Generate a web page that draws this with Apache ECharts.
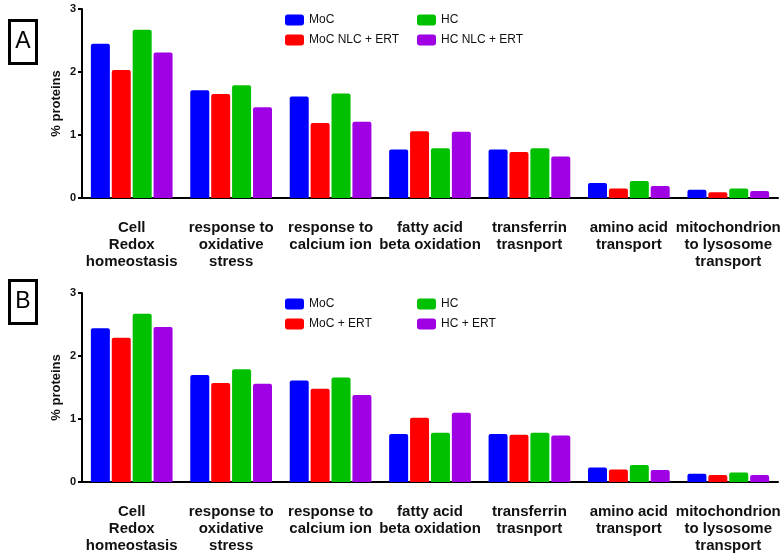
<!DOCTYPE html>
<html>
<head>
<meta charset="utf-8">
<title>% proteins by process</title>
<script src="https://cdn.jsdelivr.net/npm/echarts@6/dist/echarts.min.js"></script>
<style>
    html, body { margin: 0; padding: 0; background: #fff; }
    #chart { width: 784px; height: 559px; }
</style>
</head>
<body>
<div id="chart"></div>
<script>
// categories (line breaks as in the figure)
const categories = [
    'Cell\nRedox\nhomeostasis',
    'response to\noxidative\nstress',
    'response to\ncalcium ion',
    'fatty acid\nbeta oxidation',
    'transferrin\ntrasnport',
    'amino acid\ntransport',
    'mitochondrion\nto lysosome\ntransport'
];
const yTicks = [0, 1, 2, 3];

// panel A
const namesA = ['MoC', 'MoC NLC + ERT', 'HC', 'HC NLC + ERT'];
const mocA = [2.45, 1.71, 1.61, 0.77, 0.77, 0.24, 0.13];
const mocNlcErtA = [2.03, 1.65, 1.19, 1.06, 0.73, 0.15, 0.09];
const hcA = [2.67, 1.79, 1.66, 0.79, 0.79, 0.27, 0.15];
const hcNlcErtA = [2.31, 1.44, 1.21, 1.05, 0.66, 0.19, 0.11];

// panel B
const namesB = ['MoC', 'MoC + ERT', 'HC', 'HC + ERT'];
const mocB = [2.44, 1.70, 1.61, 0.76, 0.76, 0.23, 0.13];
const mocErtB = [2.29, 1.57, 1.48, 1.02, 0.75, 0.20, 0.11];
const hcB = [2.67, 1.79, 1.66, 0.78, 0.78, 0.27, 0.15];
const hcErtB = [2.46, 1.56, 1.38, 1.10, 0.74, 0.19, 0.11];

const colors = ['#0000ff', '#ff0000', '#00c000', '#a000e4'];
const font = '"Liberation Sans", Arial, sans-serif';

const chart = echarts.init(document.getElementById('chart'));

const makeX = (gridIndex) => ({
    type: 'category',
    gridIndex: gridIndex,
    data: categories,
    axisLine: { lineStyle: { color: '#000', width: 2 } },
    axisTick: { alignWithLabel: true, length: 4, lineStyle: { color: '#000', width: 2 } },
    axisLabel: {
        interval: 0,
        margin: 21,
        color: '#111',
        fontFamily: font,
        fontWeight: 'bold',
        fontSize: 15,
        lineHeight: 17
    }
});

const makeY = (gridIndex) => ({
    type: 'value',
    gridIndex: gridIndex,
    min: yTicks[0],
    max: yTicks[yTicks.length - 1],
    interval: 1,
    name: '% proteins',
    nameLocation: 'middle',
    nameGap: 19,
    nameMoveOverlap: false,
    nameRotate: 90,
    nameTextStyle: { color: '#111', fontFamily: font, fontWeight: 'bold', fontSize: 13 },
    splitLine: { show: false },
    axisLine: { show: true, lineStyle: { color: '#000', width: 2 } },
    axisTick: { show: true, length: 4, lineStyle: { color: '#000', width: 2 } },
    axisLabel: { margin: 6, color: '#111', fontFamily: font, fontWeight: 'bold', fontSize: 11 }
});

const makeBars = (names, lists, axisIndex) => names.map((name, i) => ({
    name: name,
    type: 'bar',
    xAxisIndex: axisIndex,
    yAxisIndex: axisIndex,
    data: lists[i],
    barWidth: 19,
    barGap: '10%',
    itemStyle: { color: colors[i], borderRadius: [2, 2, 0, 0] }
}));

const makeLegend = (data, left, top) => ({
    data: data,
    left: left,
    top: top,
    padding: 0,
    orient: 'vertical',
    icon: 'roundRect',
    itemWidth: 19,
    itemHeight: 11,
    itemGap: 8,
    textStyle: { color: '#111', fontFamily: font, fontSize: 12 }
});

const makeBox = (label, top, height) => ({
    type: 'group',
    left: 8,
    top: top,
    children: [
        {
            type: 'rect',
            shape: { x: 0, y: 0, width: 27, height: height },
            style: { fill: '#fff', stroke: '#000', lineWidth: 3 }
        },
        {
            type: 'text',
            x: 13.5,
            y: height / 2,
            style: {
                text: label,
                fill: '#000',
                font: '23px ' + font,
                align: 'center',
                verticalAlign: 'middle'
            }
        }
    ]
});

const option = {
    backgroundColor: '#fff',
    animation: false,
    color: colors,
    grid: [
        { left: 82, right: 6, top: 9, height: 189 },
        { left: 82, right: 6, top: 293, height: 189 }
    ],
    xAxis: [makeX(0), makeX(1)],
    yAxis: [makeY(0), makeY(1)],
    legend: [
        makeLegend([namesA[0], namesA[1]], 285, 14),
        makeLegend([namesA[2], namesA[3]], 417, 14),
        makeLegend([namesB[0], namesB[1]], 285, 298),
        makeLegend([namesB[2], namesB[3]], 417, 298)
    ],
    graphic: [
        makeBox('A', 19, 43),
        makeBox('B', 279, 43)
    ],
    series: [
        ...makeBars(namesA, [mocA, mocNlcErtA, hcA, hcNlcErtA], 0),
        ...makeBars(namesB, [mocB, mocErtB, hcB, hcErtB], 1)
    ]
};

chart.setOption(option);
</script>
</body>
</html>
